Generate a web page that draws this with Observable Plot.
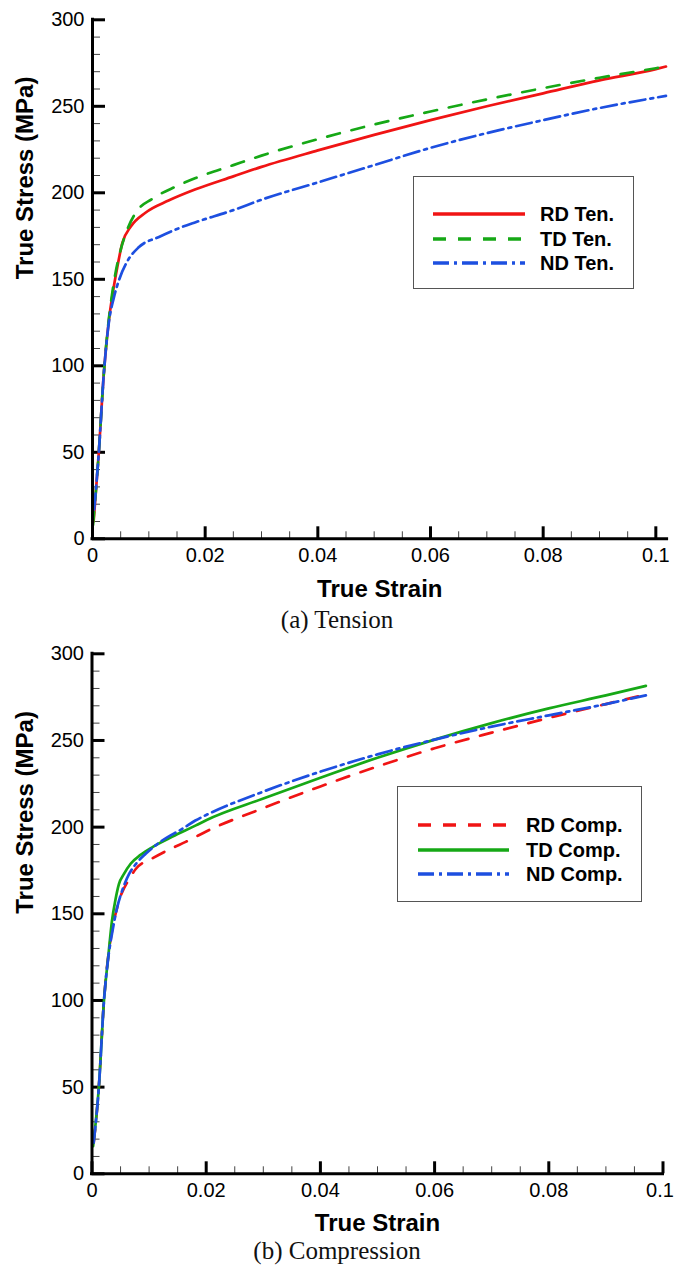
<!DOCTYPE html>
<html>
<head>
<meta charset="utf-8">
<script src="https://cdn.jsdelivr.net/npm/d3@7"></script>
<script src="https://cdn.jsdelivr.net/npm/@observablehq/plot@0.6"></script>
<style>
  html, body { margin: 0; padding: 0; background: #fff; }
  #root { width: 674px; }
  .panel { position: relative; width: 674px; }
  .cap { width: 674px; text-align: center; font-family: "Liberation Serif", "Times New Roman", serif; font-size: 25px; color: #111; }
  .legend { position: absolute; box-sizing: border-box; border: 1.5px solid #555; background: #fff; }
  .legend .row { position: absolute; height: 24px; line-height: 24px; left: 0; right: 0; }
  .legend .row svg { position: absolute; top: 0; }
  .legend .row span { position: absolute; font-family: "Liberation Sans", Arial, sans-serif; font-weight: bold; font-size: 20px; color: #000; white-space: nowrap; }
</style>
</head>
<body>
<div id="root"></div>
<script>
// ---- tick labels ----
const strainTicks = [0, 0.02, 0.04, 0.06, 0.08, 0.1];
const stressTicks = [0, 50, 100, 150, 200, 250, 300];
const xTitle = "True Strain";
const yTitle = "True Stress (MPa)";

// ---- (a) Tension ----
const tensionNames = ["RD Ten.", "TD Ten.", "ND Ten."];
const rdTenStrain = [0.0002, 0.0011, 0.002, 0.0029, 0.0035, 0.0044, 0.0053, 0.0068, 0.0094, 0.0135, 0.0183, 0.025, 0.03, 0.04, 0.05, 0.06, 0.07, 0.08, 0.09, 0.1, 0.1018];
const rdTenStress = [10, 49, 95, 126, 140, 157, 171, 180.5, 188.5, 195.5, 202, 209.5, 215, 224.5, 233.5, 242, 250, 257.5, 265, 271.5, 273];
const tdTenStrain = [0.0001, 0.0011, 0.002, 0.0029, 0.0035, 0.0041, 0.005, 0.0062, 0.0079, 0.0106, 0.0147, 0.0183, 0.025, 0.03, 0.04, 0.05, 0.06, 0.07, 0.08, 0.09, 0.1, 0.1018];
const tdTenStress = [8, 49, 95, 127, 142, 154, 167, 179, 189.5, 196.5, 203.5, 208.5, 216, 221.5, 231, 239.5, 247, 254, 260.5, 266.5, 272, 273];
const ndTenStrain = [0.0003, 0.0011, 0.002, 0.0029, 0.0038, 0.0047, 0.0062, 0.0082, 0.0118, 0.0153, 0.0183, 0.025, 0.03, 0.04, 0.05, 0.06, 0.07, 0.08, 0.09, 0.1, 0.1018];
const ndTenStress = [17, 49, 95, 125, 139.5, 149.5, 160.5, 168.5, 174.5, 179.5, 183, 190, 196, 206, 216, 226, 234.5, 242, 249, 255, 256];

// ---- (b) Compression ----
const compressionNames = ["RD Comp.", "TD Comp.", "ND Comp."];
const rdCompStrain = [0.0003, 0.0012, 0.0021, 0.0029, 0.0035, 0.0047, 0.0065, 0.0077, 0.0106, 0.0141, 0.0164, 0.0182, 0.02, 0.03, 0.04, 0.05, 0.06, 0.07, 0.08, 0.09, 0.097];
const rdCompStress = [18, 50, 100, 127, 140, 157, 170, 176, 182, 188, 191.5, 194.5, 197.5, 211, 223.5, 235, 245.5, 254.5, 263, 271, 276.5];
const tdCompStrain = [0.0002, 0.0012, 0.0021, 0.0029, 0.0035, 0.0041, 0.0047, 0.0056, 0.0068, 0.0085, 0.0106, 0.0141, 0.0182, 0.02, 0.03, 0.04, 0.05, 0.06, 0.07, 0.08, 0.09, 0.097];
const tdCompStress = [16, 50, 100, 127, 146, 158, 167, 173, 179, 184, 188.5, 194.5, 201, 204, 216.5, 228.5, 240, 250.5, 260, 268.5, 276, 281.5];
const ndCompStrain = [0.0003, 0.0012, 0.0021, 0.0029, 0.0035, 0.0044, 0.0053, 0.0065, 0.0077, 0.0094, 0.0123, 0.0158, 0.0181, 0.02, 0.03, 0.04, 0.05, 0.06, 0.07, 0.08, 0.09, 0.097];
const ndCompStress = [18, 50, 100, 126, 138.5, 153.5, 163.5, 173, 178.8, 184.6, 192.3, 199, 203.8, 207, 220.5, 232, 242, 250.5, 258, 264.5, 271, 276];

const captions = ["(a) Tension", "(b) Compression"];

// ---- styles ----
const RED = "#f01414", GREEN = "#16a816", BLUE = "#1d4fe0";
const SOLID = null, DASH = "13,12", DASHDOT = "16,5,3,5";

const tensionSeries = [
  {name: tensionNames[0], strain: rdTenStrain, stress: rdTenStress, color: RED, dash: SOLID},
  {name: tensionNames[1], strain: tdTenStrain, stress: tdTenStress, color: GREEN, dash: DASH},
  {name: tensionNames[2], strain: ndTenStrain, stress: ndTenStress, color: BLUE, dash: DASHDOT}
];
const compressionSeries = [
  {name: compressionNames[0], strain: rdCompStrain, stress: rdCompStress, color: RED, dash: DASH},
  {name: compressionNames[1], strain: tdCompStrain, stress: tdCompStress, color: GREEN, dash: SOLID},
  {name: compressionNames[2], strain: ndCompStrain, stress: ndCompStress, color: BLUE, dash: DASHDOT}
];

const minorStress = d3.range(10, 300, 10).filter(v => v % 50 !== 0);
const minorStrain = d3.range(1, 20).map(i => i * 0.005).filter(v => Math.abs(v / 0.02 - Math.round(v / 0.02)) > 1e-6);

function chart(series, o) {
  const W = 674;
  const plotW = W - o.marginLeft - o.marginRight;
  const plotH = o.height - o.marginTop - o.marginBottom;
  const lineMarks = series.map(s => Plot.line(s.strain.map((x, i) => ({x, y: s.stress[i]})), {
    x: "x", y: "y", stroke: s.color, strokeWidth: 2.7,
    strokeDasharray: s.dash || undefined, curve: "monotone-x"
  }));
  const lastTick = strainTicks[strainTicks.length - 1];
  return Plot.plot({
    width: W, height: o.height,
    marginLeft: o.marginLeft, marginRight: o.marginRight,
    marginTop: o.marginTop, marginBottom: o.marginBottom,
    x: {domain: o.xDomain},
    y: {domain: [0, 300]},
    style: {fontFamily: "'Liberation Sans', Arial, sans-serif", background: "#fff", color: "#000", overflow: "visible"},
    marks: [
      Plot.tickY(minorStress, {y: d => d, insetRight: plotW - 8, stroke: "#444", strokeWidth: 1}),
      Plot.tickY(stressTicks, {y: d => d, insetRight: plotW - 13, stroke: "#000", strokeWidth: 3}),
      Plot.tickX(minorStrain, {x: d => d, insetTop: plotH - 7, stroke: "#444", strokeWidth: 1}),
      Plot.tickX(strainTicks, {x: d => d, insetTop: plotH - 12, stroke: "#000", strokeWidth: 3}),
      ...lineMarks,
      Plot.ruleX([0], {stroke: "#000", strokeWidth: 3, strokeLinecap: "square"}),
      Plot.ruleY([0], {stroke: "#000", strokeWidth: 3, strokeLinecap: "square"}),
      Plot.axisY(stressTicks, {tickSize: 0, tickPadding: 8, fontSize: 20, label: null}),
      Plot.axisX(strainTicks.slice(0, -1), {tickSize: 0, tickPadding: 9, fontSize: 20, label: null, tickFormat: d => String(d)}),
      Plot.axisX([lastTick], {tickSize: 0, tickPadding: 9, fontSize: 20, label: null, dx: o.lastLabelDx, tickFormat: d => String(d)}),
      Plot.text([xTitle], {text: d => d, frameAnchor: "bottom", dy: o.xTitleDy, fontSize: 24, fontWeight: "bold", lineAnchor: "middle"}),
      Plot.text([yTitle], {text: d => d, frameAnchor: "left", dx: o.yTitleDx, rotate: -90, fontSize: 24, fontWeight: "bold", lineAnchor: "middle"})
    ]
  });
}

function legend(series, L) {
  const box = document.createElement("div");
  box.className = "legend";
  Object.assign(box.style, {left: L.left + "px", top: L.top + "px", width: L.width + "px", height: L.height + "px"});
  series.forEach((s, i) => {
    const row = document.createElement("div");
    row.className = "row";
    row.style.top = (L.firstRow + i * L.rowGap - 12) + "px";
    const ns = "http://www.w3.org/2000/svg";
    const svg = document.createElementNS(ns, "svg");
    svg.setAttribute("width", L.sampleW);
    svg.setAttribute("height", 24);
    svg.style.left = L.sampleX + "px";
    const ln = document.createElementNS(ns, "line");
    ln.setAttribute("x1", 0); ln.setAttribute("x2", L.sampleW);
    ln.setAttribute("y1", 12); ln.setAttribute("y2", 12);
    ln.setAttribute("stroke", s.color);
    ln.setAttribute("stroke-width", 3.5);
    if (s.dash) ln.setAttribute("stroke-dasharray", s.dash);
    svg.appendChild(ln);
    const span = document.createElement("span");
    span.textContent = s.name;
    span.style.left = L.textX + "px";
    row.appendChild(svg);
    row.appendChild(span);
    box.appendChild(row);
  });
  return box;
}

const root = document.getElementById("root");

function addPanel(series, o, L, caption, capH) {
  const panel = document.createElement("div");
  panel.className = "panel";
  panel.style.height = o.height + "px";
  panel.appendChild(chart(series, o));
  panel.appendChild(legend(series, L));
  root.appendChild(panel);
  const cap = document.createElement("div");
  cap.className = "cap";
  cap.style.height = capH + "px";
  cap.style.lineHeight = capH + "px";
  cap.textContent = caption;
  root.appendChild(cap);
}

addPanel(tensionSeries,
  {height: 600, marginLeft: 92, marginRight: 7.4, marginTop: 19.3, marginBottom: 61.7, xDomain: [0, 0.102], xTitleDy: 50.7, yTitleDx: -67.3, lastLabelDx: 0},
  {left: 413, top: 176, width: 221, height: 113, firstRow: 37, rowGap: 24.5, sampleX: 19, sampleW: 92, textX: 126},
  captions[0], 40);

addPanel(compressionSeries,
  {height: 595, marginLeft: 91.5, marginRight: 11.5, marginTop: 13.3, marginBottom: 61.7, xDomain: [0, 0.1], xTitleDy: 49.7, yTitleDx: -67, lastLabelDx: -3},
  {left: 397, top: 146, width: 245, height: 116, firstRow: 38, rowGap: 24.5, sampleX: 20, sampleW: 91, textX: 128},
  captions[1], 32);
</script>
</body>
</html>
